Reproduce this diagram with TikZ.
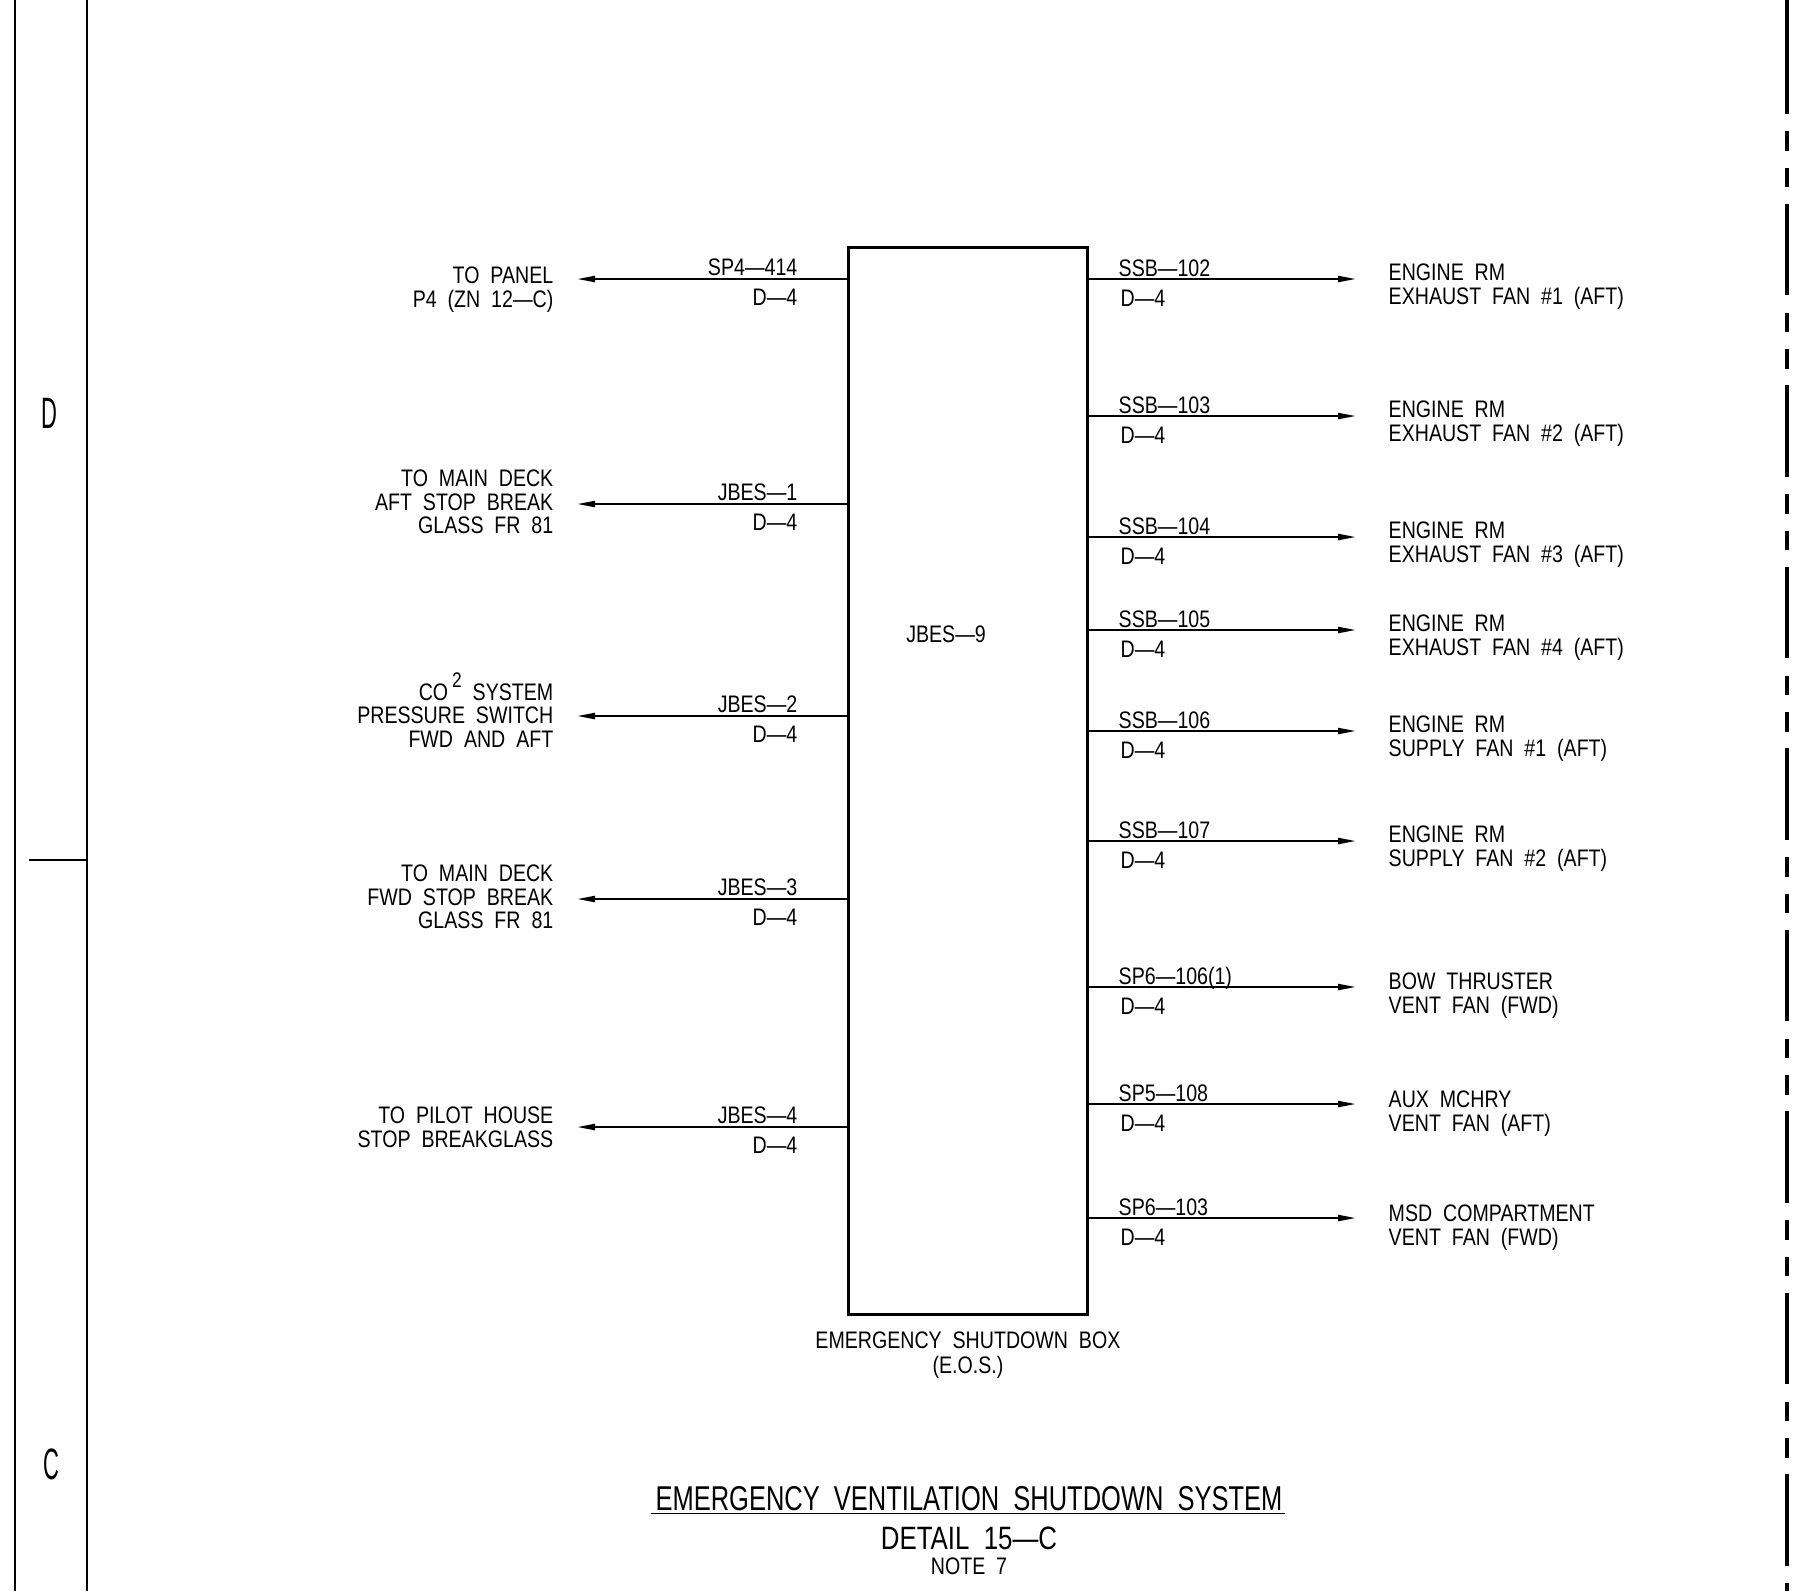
\documentclass[tikz,border=0pt]{standalone}
\usepackage{fontspec}
\setmainfont{Liberation Sans}[FakeStretch=0.82,WordSpace=2]
\newfontfamily\titlefont{Liberation Sans}[FakeStretch=0.74,WordSpace=2,Ligatures=TeX]
\newfontfamily\detailfont{Liberation Sans}[FakeStretch=0.8,WordSpace=2,Ligatures=TeX]
\newfontfamily\zonefont{Liberation Sans}[FakeStretch=0.5]
\usetikzlibrary{arrows.meta,positioning}

\tikzset{
  cadtext/.style={font=\fontsize{6.8}{6.7}\selectfont, inner sep=0pt},
  fromlbl/.style={cadtext, align=right},
  tolbl/.style={cadtext, align=left},
  wirelblL/.style={cadtext, anchor=base east},
  wirelblR/.style={cadtext, anchor=base west},
  cable/.style={line width=0.6pt, -{Triangle[length=1.8mm,width=0.6mm]}},
  phantom/.style={line width=0.9pt, dash pattern=on 9.15mm off 1.75mm on 1.95mm off 1.7mm on 1.95mm off 1.65mm},
}

\begin{document}
\begin{tikzpicture}[x=0.1mm,y=-0.1mm]
  \useasboundingbox (0,0) rectangle (1800,1591);

  % sheet frame and zone letters
  \draw[line width=0.7pt] (15,0) -- (15,1591);
  \draw[line width=0.7pt] (87,0) -- (87,1591);
  \draw[line width=0.4pt] (29,860) -- (87,860);
  \node[font=\zonefont\fontsize{12.5}{12.5}\selectfont, inner sep=0pt] (zoneD) at (49,413) {D};
  \node[font=\zonefont\fontsize{12.5}{12.5}\selectfont, inner sep=0pt] (zoneC) at (51,1464) {C};
  \draw[line width=0.9pt] (1787,0) -- (1787,22);
  \draw[phantom] (1787,22) -- (1787,1591);

  % shutdown box
  \node[draw, line width=0.8pt, inner sep=0pt, minimum width=23.9mm,
    minimum height=106.7mm, anchor=north west] (eos) at (847,246) {};
  \node[cadtext] (jbes9) at (946,634) {JBES---9};
  \node[cadtext, align=center, font=\fontsize{6.8}{7}\selectfont, below=1.55mm of eos] (eoscap)
    {EMERGENCY SHUTDOWN BOX\\(E.O.S.)};

  % incoming side
  \coordinate (panel) at (577,279);
  \coordinate (aftstop) at (577,504);
  \coordinate (cotwo) at (577,716);
  \coordinate (fwdstop) at (577,899);
  \coordinate (pilot) at (577,1127);
  \draw[cable] (eos.west |- panel) -- (panel);
  \draw[cable] (eos.west |- aftstop) -- (aftstop);
  \draw[cable] (eos.west |- cotwo) -- (cotwo);
  \draw[cable] (eos.west |- fwdstop) -- (fwdstop);
  \draw[cable] (eos.west |- pilot) -- (pilot);
  \node[fromlbl, left=2.3mm of panel, yshift=-1.05mm] (panellbl) {TO PANEL\\P4 (ZN 12---C)};
  \node[fromlbl, left=2.3mm of aftstop, yshift=0.2mm] (aftstoplbl) {TO MAIN DECK\\AFT STOP BREAK\\GLASS FR 81};
  \node[fromlbl, left=2.3mm of cotwo, yshift=0.6mm] (cotwolbl)
    {CO\,\raisebox{1ex}{\fontsize{6}{6}\selectfont 2} SYSTEM\\PRESSURE SWITCH\\FWD AND AFT};
  \node[fromlbl, left=2.3mm of fwdstop, yshift=0.2mm] (fwdstoplbl) {TO MAIN DECK\\FWD STOP BREAK\\GLASS FR 81};
  \node[fromlbl, left=2.3mm of pilot] (pilotlbl) {TO PILOT HOUSE\\STOP BREAKGLASS};
  \node[wirelblL] (panelw) at (798,275) {SP4---414};
  \node[wirelblL] (paneld) at (798,305) {D---4};
  \node[wirelblL] (aftstopw) at (798,500) {JBES---1};
  \node[wirelblL] (aftstopd) at (798,530) {D---4};
  \node[wirelblL] (cotwow) at (798,712) {JBES---2};
  \node[wirelblL] (cotwod) at (798,742) {D---4};
  \node[wirelblL] (fwdstopw) at (798,895) {JBES---3};
  \node[wirelblL] (fwdstopd) at (798,925) {D---4};
  \node[wirelblL] (pilotw) at (798,1123) {JBES---4};
  \node[wirelblL] (pilotd) at (798,1153) {D---4};

  % outgoing side
  \coordinate (exone) at (1356,279);
  \coordinate (extwo) at (1356,416);
  \coordinate (exthree) at (1356,537);
  \coordinate (exfour) at (1356,630);
  \coordinate (supone) at (1356,731);
  \coordinate (suptwo) at (1356,841);
  \coordinate (bow) at (1356,987);
  \coordinate (aux) at (1356,1104);
  \coordinate (msd) at (1356,1218);
  \draw[cable] (eos.east |- exone) -- (exone);
  \draw[cable] (eos.east |- extwo) -- (extwo);
  \draw[cable] (eos.east |- exthree) -- (exthree);
  \draw[cable] (eos.east |- exfour) -- (exfour);
  \draw[cable] (eos.east |- supone) -- (supone);
  \draw[cable] (eos.east |- suptwo) -- (suptwo);
  \draw[cable] (eos.east |- bow) -- (bow);
  \draw[cable] (eos.east |- aux) -- (aux);
  \draw[cable] (eos.east |- msd) -- (msd);
  \node[tolbl, right=3.2mm of exone, yshift=-0.75mm] (exonelbl) {ENGINE RM\\EXHAUST FAN \#1 (AFT)};
  \node[tolbl, right=3.2mm of extwo, yshift=-0.75mm] (extwolbl) {ENGINE RM\\EXHAUST FAN \#2 (AFT)};
  \node[tolbl, right=3.2mm of exthree, yshift=-0.75mm] (exthreelbl) {ENGINE RM\\EXHAUST FAN \#3 (AFT)};
  \node[tolbl, right=3.2mm of exfour, yshift=-0.75mm] (exfourlbl) {ENGINE RM\\EXHAUST FAN \#4 (AFT)};
  \node[tolbl, right=3.2mm of supone, yshift=-0.75mm] (suponelbl) {ENGINE RM\\SUPPLY FAN \#1 (AFT)};
  \node[tolbl, right=3.2mm of suptwo, yshift=-0.75mm] (suptwolbl) {ENGINE RM\\SUPPLY FAN \#2 (AFT)};
  \node[tolbl, right=3.2mm of bow, yshift=-0.85mm] (bowlbl) {BOW THRUSTER\\VENT FAN (FWD)};
  \node[tolbl, right=3.2mm of aux, yshift=-0.95mm] (auxlbl) {AUX MCHRY\\VENT FAN (AFT)};
  \node[tolbl, right=3.2mm of msd, yshift=-0.95mm] (msdlbl) {MSD COMPARTMENT\\VENT FAN (FWD)};
  \node[wirelblR] (exonew) at (1118,276) {SSB---102};
  \node[wirelblR] (exoned) at (1120,306) {D---4};
  \node[wirelblR] (extwow) at (1118,413) {SSB---103};
  \node[wirelblR] (extwod) at (1120,443) {D---4};
  \node[wirelblR] (exthreew) at (1118,534) {SSB---104};
  \node[wirelblR] (exthreed) at (1120,564) {D---4};
  \node[wirelblR] (exfourw) at (1118,627) {SSB---105};
  \node[wirelblR] (exfourd) at (1120,657) {D---4};
  \node[wirelblR] (suponew) at (1118,728) {SSB---106};
  \node[wirelblR] (suponed) at (1120,758) {D---4};
  \node[wirelblR] (suptwow) at (1118,838) {SSB---107};
  \node[wirelblR] (suptwod) at (1120,868) {D---4};
  \node[wirelblR] (boww) at (1118,984) {SP6---106(1)};
  \node[wirelblR] (bowd) at (1120,1014) {D---4};
  \node[wirelblR] (auxw) at (1118,1101) {SP5---108};
  \node[wirelblR] (auxd) at (1120,1131) {D---4};
  \node[wirelblR] (msdw) at (1118,1215) {SP6---103};
  \node[wirelblR] (msdd) at (1120,1245) {D---4};

  % title block
  \node[font=\titlefont\fontsize{9.8}{9.8}\selectfont, inner sep=0pt, anchor=base] (title) at (969,1510)
    {EMERGENCY VENTILATION SHUTDOWN SYSTEM};
  \draw[line width=0.5pt] ([xshift=-0.4mm,yshift=-0.35mm]title.base west) -- ([xshift=0.2mm,yshift=-0.35mm]title.base east);
  \node[font=\detailfont\fontsize{9.2}{9.2}\selectfont, inner sep=0pt, anchor=base] (detail) at (969,1549) {DETAIL 15---C};
  \node[cadtext, anchor=base] (note) at (969,1574) {NOTE 7};
\end{tikzpicture}
\end{document}
